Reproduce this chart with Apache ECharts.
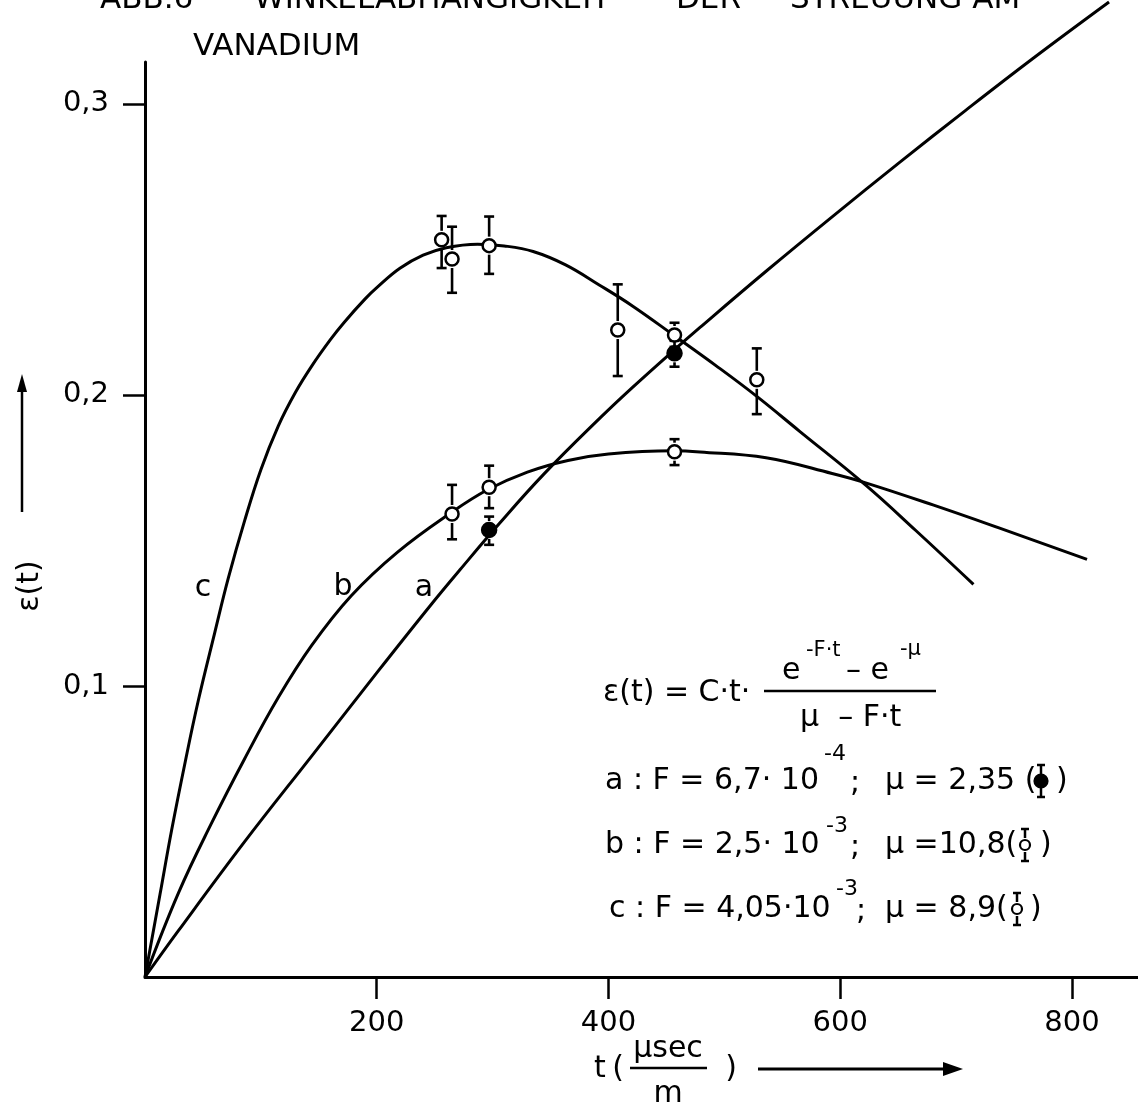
<!DOCTYPE html>
<html>
<head>
<meta charset="utf-8">
<script src="https://cdn.jsdelivr.net/npm/echarts@6/dist/echarts.min.js"></script>
<style>
  html, body { margin: 0; padding: 0; background: #fff; }
  #chart { width: 1138px; height: 1112px; }
</style>
</head>
<body>
<div id="chart"></div>
<script>
// Fitted curves eps(t), sampled along t (usec/m)
const curveA = [[0,0],[29,0.0160],[86,0.0465],[144,0.0760],[201,0.1050],[247,0.1280],[272,0.1400],[306,0.1559],[344,0.1727],[393,0.1922],[421,0.2027],[456,0.2152],[479,0.2232],[536,0.2425],[593,0.2612],[651,0.2798],[708,0.2977],[766,0.3155],[832,0.3350]];
const curveB = [[0,0],[29,0.0290],[57,0.0525],[86,0.0750],[115,0.0960],[144,0.1140],[178,0.1310],[218,0.1460],[264,0.1595],[296,0.1675],[330,0.1735],[365,0.1775],[400,0.1797],[456,0.1808],[479,0.1804],[536,0.1784],[593,0.1730],[622,0.1698],[680,0.1622],[737,0.1543],[813,0.1435]];
const curveC = [[0,0],[13,0.0285],[23,0.0505],[35,0.0745],[46,0.0950],[60,0.1180],[72,0.1372],[86,0.1568],[100,0.1743],[115,0.1893],[130,0.2010],[144,0.2100],[160,0.2190],[172,0.2250],[190,0.2330],[201,0.2372],[220,0.2435],[240,0.2480],[260,0.2506],[287,0.2518],[310,0.2512],[335,0.2493],[363,0.2447],[392,0.2378],[421,0.2305],[456,0.2206],[493,0.2100],[528,0.1995],[565,0.1875],[622,0.1690],[665,0.1535],[715,0.1349]];

// Measurements: [t, eps, eps_low, eps_high]
const pointsA = [[297,0.1536,0.1485,0.1582],[457,0.2143,0.2097,0.2186]];
const pointsB = [[265,0.1591,0.1504,0.1691],[297,0.1683,0.1611,0.1757],[457,0.1805,0.1759,0.1848]];
const pointsC = [[256,0.2533,0.2436,0.2615],[265,0.2467,0.2351,0.2578],[297,0.2513,0.2416,0.2613],[408,0.2223,0.2065,0.2380],[457,0.2206,0.2165,0.2248],[528,0.2052,0.1934,0.2160]];

const xTicks = [200, 400, 600, 800];
const yTicks = [0.1, 0.2, 0.3];

const FONT = '"DejaVu Sans", sans-serif';
const BLACK = '#000';
const LW = 3;

function txt(text, x, y, size, align, extra) {
  return Object.assign({
    type: 'text', x: x, y: y, z: 50,
    style: {
      text: text, fill: BLACK,
      font: size + 'px ' + FONT,
      textAlign: align || 'left', align: align || 'left',
      textVerticalAlign: 'middle', verticalAlign: 'middle'
    }
  }, extra || {});
}
function seg(x1, y1, x2, y2, w) {
  return { type: 'line', z: 50, shape: { x1: x1, y1: y1, x2: x2, y2: y2 }, style: { stroke: BLACK, lineWidth: w || LW } };
}
// small symbol with error bar used inside the parameter list
function keySymbol(cx, cy, filled) {
  return { type: 'group', children: [
    seg(cx, cy - 16, cx, cy - 7, 2.5), seg(cx - 4, cy - 16, cx + 4, cy - 16, 2.5),
    seg(cx, cy + 7, cx, cy + 16, 2.5), seg(cx - 4, cy + 16, cx + 4, cy + 16, 2.5),
    { type: 'circle', z: 51, shape: { cx: cx, cy: cy, r: filled ? 6.5 : 5 },
      style: { fill: filled ? BLACK : '#fff', stroke: BLACK, lineWidth: 2.2 } }
  ]};
}

function errorBars(data) {
  return {
    type: 'custom', z: 4, clip: false, data: data,
    encode: { x: 0, y: [1, 2, 3] },
    renderItem: function (params, api) {
      const p = api.coord([api.value(0), api.value(1)]);
      const lo = api.coord([api.value(0), api.value(2)]);
      const hi = api.coord([api.value(0), api.value(3)]);
      const r = 9, cap = 5;
      const st = { stroke: BLACK, lineWidth: 2.6 };
      const ch = [];
      if (hi[1] < p[1] - r) ch.push({ type: 'line', shape: { x1: p[0], y1: hi[1], x2: p[0], y2: p[1] - r }, style: st });
      if (lo[1] > p[1] + r) ch.push({ type: 'line', shape: { x1: p[0], y1: p[1] + r, x2: p[0], y2: lo[1] }, style: st });
      ch.push({ type: 'line', shape: { x1: p[0] - cap, y1: hi[1], x2: p[0] + cap, y2: hi[1] }, style: st });
      ch.push({ type: 'line', shape: { x1: p[0] - cap, y1: lo[1], x2: p[0] + cap, y2: lo[1] }, style: st });
      return { type: 'group', children: ch };
    }
  };
}
function curve(data) {
  return { type: 'line', data: data, smooth: 0.4, showSymbol: false, clip: false, z: 2,
    lineStyle: { color: BLACK, width: LW }, silent: true };
}
function dots(data, filled) {
  return { type: 'scatter', z: 6, clip: false, symbol: 'circle', symbolSize: filled ? 14 : 13,
    data: data.map(d => [d[0], d[1]]),
    itemStyle: { color: filled ? BLACK : '#fff', borderColor: BLACK, borderWidth: 2.5, opacity: 1 } };
}

const chart = echarts.init(document.getElementById('chart'), null, { renderer: 'canvas' });
chart.setOption({
  backgroundColor: '#fff',
  animation: false,
  grid: { left: 145, right: 0, top: 62, bottom: 135 },
  xAxis: {
    type: 'value', min: 0, max: 857,
    axisLine: { show: true, onZero: false, lineStyle: { color: BLACK, width: LW } },
    axisTick: { show: true, customValues: xTicks, length: 22, inside: false, lineStyle: { color: BLACK, width: 2.5 } },
    axisLabel: { customValues: xTicks, margin: 32, color: BLACK, fontSize: 29, fontFamily: FONT },
    splitLine: { show: false }
  },
  yAxis: {
    type: 'value', min: 0, max: 0.3144,
    axisLine: { show: true, onZero: false, lineStyle: { color: BLACK, width: LW } },
    axisTick: { show: true, customValues: yTicks, length: 22, inside: false, lineStyle: { color: BLACK, width: 2.5 } },
    axisLabel: { customValues: yTicks, margin: 36, color: BLACK, fontSize: 29, fontFamily: FONT,
      formatter: v => v.toFixed(1).replace('.', ',') },
    splitLine: { show: false }
  },
  series: [
    curve(curveA), curve(curveB), curve(curveC),
    errorBars(pointsC), errorBars(pointsB), errorBars(pointsA),
    dots(pointsC, false), dots(pointsB, false), dots(pointsA, true)
  ],
  graphic: [
    // heading
    txt('ABB.6', 100, 0, 31), txt('WINKELABHÄNGIGKEIT', 254, 0, 31),
    txt('DER', 676, 0, 31), txt('STREUUNG AM', 790, 0, 31),
    txt('VANADIUM', 193, 47, 31),
    // curve labels
    txt('c', 203, 588, 30, 'center'), txt('b', 343, 587, 30, 'center'), txt('a', 424, 588, 30, 'center'),
    // y axis name with arrow
    txt('ε(t)', 30, 586, 30, 'center', { rotation: Math.PI / 2 }),
    seg(22, 512, 22, 388, 2.5),
    { type: 'polygon', z: 50, shape: { points: [[22, 374], [17, 392], [27, 392]] }, style: { fill: BLACK } },
    // x axis name with arrow
    txt('t', 600, 1069, 30, 'center'), txt('(', 618, 1069, 30, 'center'),
    txt('μsec', 668, 1049, 30, 'center'), seg(630, 1068, 707, 1068, 2.5),
    txt('m', 668, 1094, 30, 'center'), txt(')', 731, 1069, 30, 'center'),
    seg(758, 1069, 945, 1069, 3),
    { type: 'polygon', z: 50, shape: { points: [[963, 1069], [943, 1062], [943, 1076]] }, style: { fill: BLACK } },
    // formula
    txt('ε(t) = C·t·', 603, 693, 30),
    txt('e', 782, 671, 30), txt('-F·t', 806, 651, 21),
    txt('– e', 846, 671, 30), txt('-μ', 900, 650, 21),
    seg(764, 691, 936, 691, 2.5),
    txt('μ  – F·t', 800, 718, 30),
    // parameter list
    txt('a : F = 6,7· 10', 605, 781, 30), txt('-4', 824, 754, 22), txt(';', 850, 783, 30),
    txt('μ = 2,35 (', 885, 781, 30), txt(')', 1056, 781, 30), keySymbol(1041, 781, true),
    txt('b : F = 2,5· 10', 605, 845, 30), txt('-3', 826, 826, 22), txt(';', 850, 847, 30),
    txt('μ =10,8(', 885, 845, 30), txt(')', 1040, 845, 30), keySymbol(1025, 845, false),
    txt('c : F = 4,05·10', 609, 909, 30), txt('-3', 836, 889, 22), txt(';', 856, 911, 30),
    txt('μ = 8,9(', 885, 909, 30), txt(')', 1030, 909, 30), keySymbol(1017, 909, false)
  ]
});
</script>
</body>
</html>
